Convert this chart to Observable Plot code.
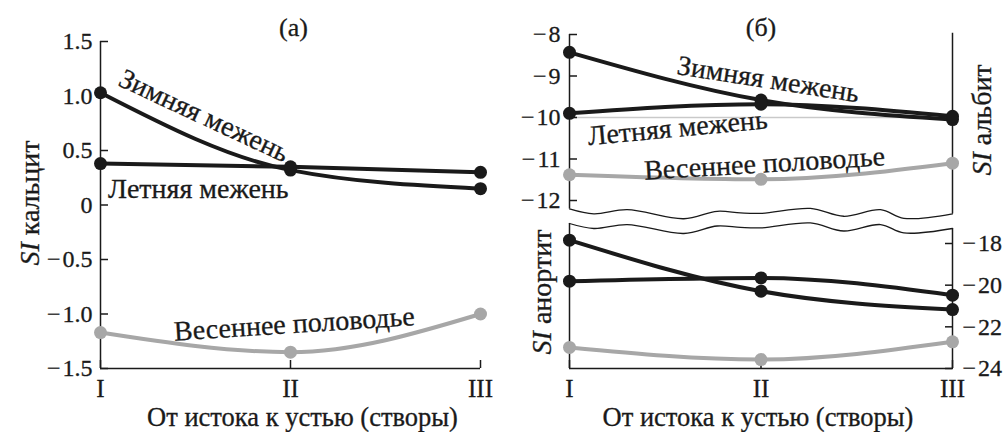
<!DOCTYPE html>
<html><head><meta charset="utf-8">
<script src="https://cdn.jsdelivr.net/npm/d3@7"></script>
<script src="https://cdn.jsdelivr.net/npm/@observablehq/plot@0.6"></script>
<style>
body{margin:0;background:#fff;}
#wrap{position:relative;width:1008px;height:432px;overflow:hidden;background:#fff;}
#wrap svg{position:absolute;left:0;top:0;}
#wrap svg text{font-family:'Liberation Serif','Times New Roman',serif;stroke:#1a1a1a;stroke-width:0.3px;}
</style></head><body><div id="wrap"></div>
<script>
// ---- data ----
const stations = ["I", "II", "III"];
const seasons = ["Зимняя межень", "Летняя межень", "Весеннее половодье"];
const calciteWinter = [1.03, 0.32, 0.15];
const calciteSummer = [0.38, 0.35, 0.30];
const calciteSpring = [-1.17, -1.35, -1.00];
const albiteWinter = [-8.43, -9.58, -10.05];
const albiteSummer = [-9.90, -9.68, -9.97];
const albiteSpring = [-11.38, -11.49, -11.10];
const anorthiteWinter = [-17.84, -20.29, -21.17];
const anorthiteSummer = [-19.81, -19.65, -20.48];
const anorthiteSpring = [-22.99, -23.57, -22.72];
const calciteTicks = [1.5, 1, 0.5, 0, -0.5, -1, -1.5];
const albiteTicks = [-8, -9, -10, -11, -12];
const anorthiteTicks = [-18, -20, -22, -24];
const albiteRef = [-10];
// axis break (wavy lines), x in station units
const breakX = [1, 1.127, 1.301, 1.597, 1.771, 1.893, 2.0, 2.258, 2.432, 2.624, 2.746, 3];
const breakAlbite = [-12.20, -12.32, -12.22, -12.44, -12.26, -12.30, -12.31, -12.19, -12.38, -12.22, -12.43, -12.32];
const breakAnorthite = [-17.04, -17.28, -17.09, -17.52, -17.16, -17.23, -17.25, -17.01, -17.40, -17.09, -17.49, -17.28];
const xTitle = "От истока к устью (створы)";

// ---- helpers ----
const BLACK = "#1a1a1a", GRAY = "#a7a7a7";
const FONT = "Liberation Serif";
const rows = (vals, s) => vals.map((v, i) => ({x: i + 1, y: v, season: s}));
const MINUS = "\u2212\u200A";
const fmtCalc = d => (d < 0 ? MINUS : "") + (d === 0 ? "0" : Math.abs(d).toFixed(1));
const fmtInt = d => (d < 0 ? MINUS : "") + Math.abs(d);
const fmtSt = d => stations[d - 1];
const base = {width: 1008, height: 432,
  style: {background: "transparent", overflow: "visible", color: BLACK}};
const TICKFONT = {fontFamily: FONT, fontSize: 24};
const XFONT = {fontFamily: FONT, fontSize: 25};

function seriesMarks(w, s, sp) {
  const black = rows(w, seasons[0]).concat(rows(s, seasons[1]));
  const gray = rows(sp, seasons[2]);
  return [
    Plot.line(gray, {x: "x", y: "y", stroke: GRAY, strokeWidth: 4, curve: "monotone-x"}),
    Plot.dot(gray, {x: "x", y: "y", r: 6.5, fill: GRAY}),
    Plot.line(black, {x: "x", y: "y", z: "season", stroke: BLACK, strokeWidth: 4, curve: "monotone-x"}),
    Plot.dot(black, {x: "x", y: "y", r: 6.5, fill: BLACK})
  ];
}
function labelMarks(defs) {
  return defs.map(d => Plot.text([d], {x: "x", y: "y", text: "t", rotate: d.r, fontSize: 28, fontFamily: FONT,
    textAnchor: "middle", lineAnchor: "middle", fill: BLACK}));
}
function addRotLabel(svg, x, y, rot) {
  return d3.select(svg).append("text")
    .attr("transform", `translate(${x},${y}) rotate(${rot})`)
    .attr("text-anchor", "middle").attr("dy", "0.35em")
    .attr("font-size", 28).attr("fill", BLACK).attr("font-family", FONT);
}
function serif(svg) {
  d3.select(svg).attr("font-family", FONT).selectAll("text").attr("font-family", FONT);
  return svg;
}

// ---- panel (а) ----
const A = Plot.plot({
  ...base,
  marginLeft: 100, marginRight: 528, marginTop: 41, marginBottom: 64,
  x: {type: "linear", domain: [1, 3]},
  y: {domain: [-1.5, 1.5]},
  marks: [
    Plot.ruleX([1], {y1: -1.5, y2: 1.5, stroke: BLACK, strokeWidth: 1.5}),
    Plot.ruleY([-1.5], {x1: 1, x2: 3, stroke: BLACK, strokeWidth: 1.5}),
    Plot.axisY(calciteTicks, {anchor: "left", tickSize: 8, dx: 8, tickPadding: 8, tickFormat: fmtCalc, label: null, strokeWidth: 1.5, ...TICKFONT}),
    Plot.axisX([1, 2, 3], {anchor: "bottom", tickSize: 8, dy: -8, tickPadding: 11, tickFormat: fmtSt, label: null, strokeWidth: 1.5, ...XFONT}),
    ...seriesMarks(calciteWinter, calciteSummer, calciteSpring),
    ...labelMarks([
      {x: 1.545, y: 0.82, r: 25, t: seasons[0]},
      {x: 1.515, y: 0.142, r: 0, t: seasons[1]},
      {x: 2.02, y: -1.092, r: -3.7, t: seasons[2]}
    ]),
    Plot.text(["(а)"], {frameAnchor: "top", dy: -14, dx: 3, fontSize: 26, fontFamily: FONT, lineAnchor: "middle"}),
    Plot.text([xTitle], {frameAnchor: "bottom", dy: 57, dx: 12, fontSize: 26.5, fontFamily: FONT, lineAnchor: "bottom"})
  ]
});
addRotLabel(A, 29, 203, -90).call(t => {
  t.append("tspan").attr("font-style", "italic").text("SI");
  t.append("tspan").text(" кальцит");
});

// ---- panel (б), upper: albite ----
const B = Plot.plot({
  ...base,
  marginLeft: 569, marginRight: 56, marginTop: 34, marginBottom: 232,
  x: {type: "linear", domain: [1, 3], axis: null},
  y: {domain: [-12, -8]},
  marks: [
    Plot.ruleY(albiteRef, {x1: 1, x2: 3, stroke: "#c9c9c9", strokeWidth: 1.5}),
    Plot.ruleX([1], {y1: -8, y2: breakAlbite[0], stroke: BLACK, strokeWidth: 1.5}),
    Plot.ruleX([3], {y1: -7.97, y2: breakAlbite[breakAlbite.length - 1], stroke: BLACK, strokeWidth: 1.5}),
    Plot.line(breakX.map((x, i) => ({x, y: breakAlbite[i]})), {x: "x", y: "y", stroke: BLACK, strokeWidth: 1.3, curve: "catmull-rom"}),
    Plot.axisY(albiteTicks, {anchor: "left", tickSize: 8, dx: 8, tickPadding: 9, tickFormat: fmtInt, label: null, strokeWidth: 1.5, ...TICKFONT}),
    ...seriesMarks(albiteWinter, albiteSummer, albiteSpring),
    ...labelMarks([
      {x: 2.038, y: -9.08, r: 8.9, t: seasons[0]},
      {x: 1.564, y: -10.25, r: -5.4, t: seasons[1]},
      {x: 2.018, y: -11.11, r: -3.4, t: seasons[2]}
    ]),
    Plot.text(["(б)"], {frameAnchor: "top", dy: -7, fontSize: 26, fontFamily: FONT, lineAnchor: "middle"})
  ]
});
addRotLabel(B, 981, 120, -90).call(t => {
  t.append("tspan").attr("font-style", "italic").text("SI");
  t.append("tspan").text(" альбит");
});

// ---- panel (б), lower: anorthite ----
const C = Plot.plot({
  ...base,
  marginLeft: 569, marginRight: 56, marginTop: 243, marginBottom: 64,
  x: {type: "linear", domain: [1, 3]},
  y: {domain: [-24, -18]},
  marks: [
    Plot.ruleX([1], {y1: -24, y2: breakAnorthite[0], stroke: BLACK, strokeWidth: 1.5}),
    Plot.ruleX([3], {y1: -24, y2: breakAnorthite[breakAnorthite.length - 1], stroke: BLACK, strokeWidth: 1.5}),
    Plot.ruleY([-24], {x1: 1, x2: 3, stroke: BLACK, strokeWidth: 1.5}),
    Plot.line(breakX.map((x, i) => ({x, y: breakAnorthite[i]})), {x: "x", y: "y", stroke: BLACK, strokeWidth: 1.3, curve: "catmull-rom"}),
    Plot.axisY(anorthiteTicks, {anchor: "right", tickSize: 8, dx: -8, tickPadding: 10, tickFormat: fmtInt, label: null, strokeWidth: 1.5, ...TICKFONT}),
    Plot.axisX([1, 2, 3], {anchor: "bottom", tickSize: 8, dy: -8, tickPadding: 11, tickFormat: fmtSt, label: null, strokeWidth: 1.5, ...XFONT}),
    ...seriesMarks(anorthiteWinter, anorthiteSummer, anorthiteSpring),
    Plot.text([xTitle], {frameAnchor: "bottom", dy: 57, dx: -3, fontSize: 26.5, fontFamily: FONT, lineAnchor: "bottom"})
  ]
});
addRotLabel(C, 541, 292, -90).call(t => {
  t.append("tspan").attr("font-style", "italic").text("SI");
  t.append("tspan").text(" анортит");
});

document.getElementById("wrap").append(serif(A), serif(B), serif(C));
</script></body></html>
